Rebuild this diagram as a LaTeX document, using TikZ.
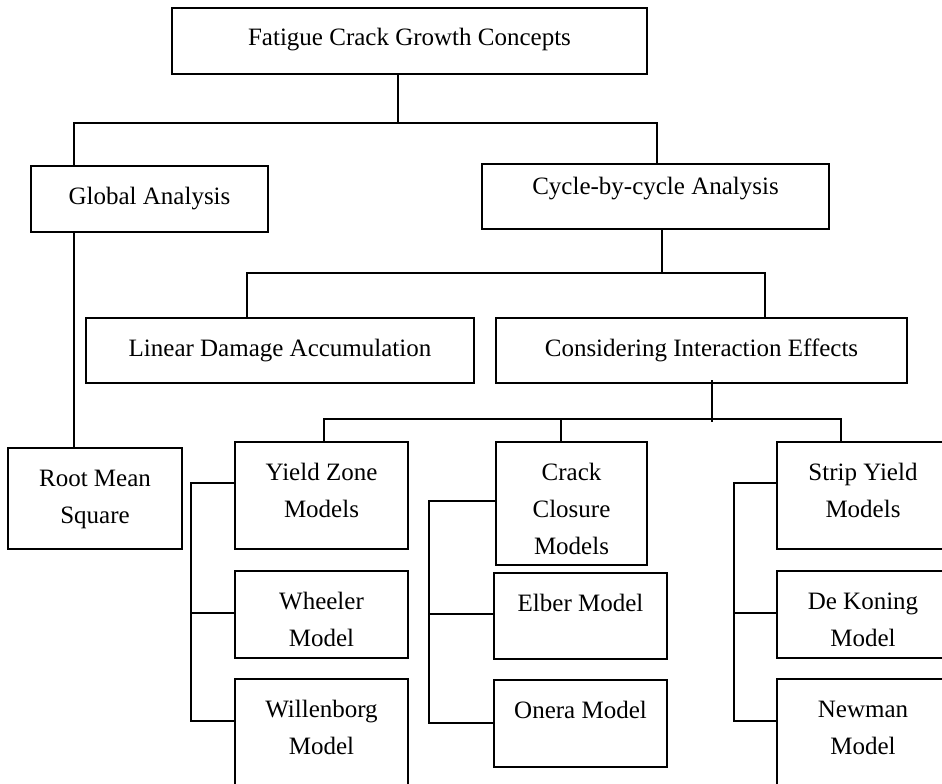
\documentclass[tikz,border=0pt]{standalone}
\usepackage{fontspec}
\setmainfont{Liberation Serif}
\usetikzlibrary{positioning}

\begin{document}
\begin{tikzpicture}[
    x=1pt, y=-1pt,
    % Node styles
    box/.style={
        draw, line width=2pt, rectangle, inner sep=0pt, anchor=north,
        align=center, text height=38pt,
        font=\fontsize{25}{37}\selectfont,
    },
    % two-line boxes keep the first line at the same place
    box2/.style={box, text height=75pt},
    box3/.style={box, text height=112pt},
    % Connector style
    link/.style={
        draw, line width=1.6pt,
    },
  ]
  \useasboundingbox (0,0) rectangle (942,784);

  % --- upper levels ---
  \node[box, minimum width=475pt, text depth=28pt] (fgc) at (409.5,7) {Fatigue Crack Growth Concepts};
  \node[box, minimum width=237pt, text depth=28pt] (global) at (149.5,165) {Global Analysis};
  \node[box, minimum width=347pt, text height=30pt, text depth=35pt] (cycle) at (655.5,163) {Cycle-by-cycle Analysis};
  \node[box, minimum width=388pt, text depth=27pt] (linear) at (280,317) {Linear Damage Accumulation};
  \node[box, minimum width=411pt, text depth=27pt] (interact) at (701.5,317) {Considering Interaction Effects};

  % --- model boxes ---
  \node[box2, minimum width=174pt, text depth=26pt] (rms) at (95,447) {Root Mean\\Square};
  \node[box2, minimum width=173pt, text depth=32pt] (yield) at (321.5,441) {Yield Zone\\Models};
  \node[box2, minimum width=173pt, text depth=12pt] (wheeler) at (321.5,570) {Wheeler\\Model};
  \node[box2, minimum width=173pt, text depth=55pt] (willen) at (321.5,678) {Willenborg\\Model};
  \node[box3, minimum width=151pt, text depth=11pt] (crack) at (571.5,441) {Crack\\Closure\\Models};
  \node[box, minimum width=173pt, text depth=48pt] (elber) at (580.5,572) {Elber Model};
  \node[box, minimum width=173pt, text depth=49pt] (onera) at (580.5,679) {Onera Model};
  \node[box2, minimum width=172pt, text depth=32pt] (strip) at (863,441) {Strip Yield\\Models};
  \node[box2, minimum width=172pt, text depth=12pt] (dekoning) at (863,570) {De Koning\\Model};
  \node[box2, minimum width=172pt, text depth=55pt] (newman) at (863,678) {Newman\\Model};

  % --- tree lines ---
  \coordinate (b1) at (398,123); \coordinate (b1l) at (74,123); \coordinate (b1r) at (657,123);
  \draw[link] (fgc.south -| b1) -- (b1);
  \draw[link] (global.north -| b1l) -- (b1l) -- (b1r) -- (cycle.north -| b1r);
  \draw[link] (global.south -| b1l) -- (rms.north -| b1l);

  \coordinate (b2) at (662,273); \coordinate (b2l) at (247,273); \coordinate (b2r) at (765,273);
  \draw[link] (cycle.south -| b2) -- (b2);
  \draw[link] (linear.north -| b2l) -- (b2l) -- (b2r) -- (interact.north -| b2r);

  \coordinate (b3) at (712,419); \coordinate (b3l) at (324,419);
  \coordinate (b3m) at (561,419); \coordinate (b3r) at (841,419);
  \draw[link] (interact.south -| b3) ++(0,-4) -- (b3) -- ++(0,3);
  \draw[link] (yield.north -| b3l) -- (b3l) -- (b3r) -- (strip.north -| b3r);
  \draw[link] (b3m) -- (crack.north -| b3m);

  % --- side brackets of the three groups ---
  \foreach \p/\q/\r/\xb/\ya/\yb/\yc in {yield/wheeler/willen/191/483/613/721,
      crack/elber/onera/429/501/614/723, strip/dekoning/newman/734/483/613/721} {
    \coordinate (ba) at (\xb,\ya); \coordinate (bb) at (\xb,\yb); \coordinate (bc) at (\xb,\yc);
    \draw[link] (\p.west |- ba) -- (ba) -- (bc) -- (\r.west |- bc);
    \draw[link] (bb) -- (\q.west |- bb);
  }
\end{tikzpicture}
\end{document}
